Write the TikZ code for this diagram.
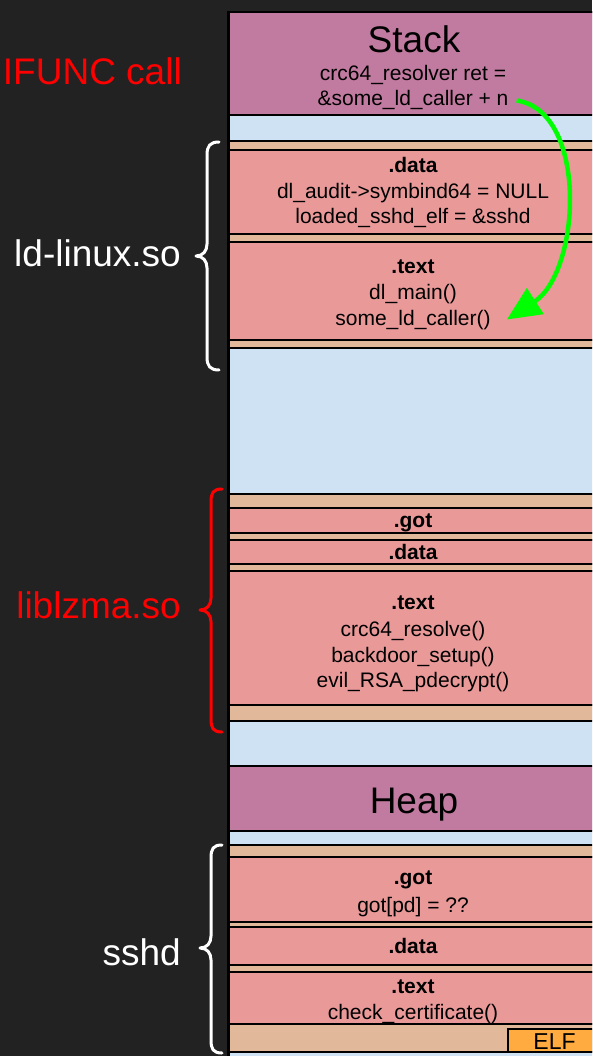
\documentclass[tikz,border=0pt]{standalone}
\usepackage{fontspec}
\setmainfont{Liberation Sans}
\usetikzlibrary{arrows.meta}
\definecolor{bg}{HTML}{222222}
\definecolor{stackc}{HTML}{C27BA0}
\definecolor{lblue}{HTML}{CFE2F3}
\definecolor{pinkc}{HTML}{EA9999}
\definecolor{tanc}{HTML}{E1B899}
\definecolor{elfc}{HTML}{FFAB40}
\definecolor{redc}{HTML}{FF0000}
\definecolor{greenc}{HTML}{00FF00}
\newcommand\band[4]{\node[band,fill=#4,minimum height={#3-#2}] (#1) at (418,{(#2+#3)/2}) {};}
\begin{document}
\begin{tikzpicture}[x=1pt,y=-1pt,
  band/.style={draw=black,line width=1.5pt,rectangle,inner sep=0pt,outer sep=0pt,minimum width=380pt},
  txt/.style={anchor=base,inner sep=0pt,font=\fontsize{21}{25}\selectfont,text=black},
  btxt/.style={txt,font=\fontsize{21}{25}\selectfont\bfseries},
  big/.style={anchor=base,inner sep=0pt,font=\fontsize{37}{44}\selectfont,text=black},
  side/.style={anchor=base east,inner sep=0pt,font=\fontsize{37}{44}\selectfont},
  brace/.style={line width=3pt,line cap=round,line join=round},
  jump/.style={draw=greenc,line width=4.5pt,-{Triangle[length=34pt,width=30pt]}}]
\useasboundingbox (0,0) rectangle (592,1056);
\fill[bg] (0,0) rectangle (592,1056);
\begin{scope}
\clip (0,0) rectangle (592,1056);
\band{mem}{12}{1070}{lblue}
\band{stack}{12}{115}{stackc}
\band{ldtA}{141}{150}{tanc}
\band{lddata}{150}{234}{pinkc}
\band{ldtB}{234}{242}{tanc}
\band{ldtext}{242}{340}{pinkc}
\band{ldtC}{340}{348}{tanc}
\band{lztA}{494}{508}{tanc}
\band{lzgot}{508}{533}{pinkc}
\band{lztB}{533}{540}{tanc}
\band{lzdata}{540}{564}{pinkc}
\band{lztC}{564}{571}{tanc}
\band{lztext}{571}{705}{pinkc}
\band{lztD}{705}{721}{tanc}
\band{heap}{766}{831}{stackc}
\band{sstA}{845}{857}{tanc}
\band{ssgot}{857}{922}{pinkc}
\band{sstB}{922}{927}{tanc}
\band{ssdata}{927}{965}{pinkc}
\band{sstC}{965}{972}{tanc}
\band{sstext}{972}{1024}{pinkc}
\band{sstD}{1024}{1052}{tanc}
\node[draw=black,line width=1.5pt,fill=elfc,inner sep=0pt,minimum width=92pt,minimum height=23pt] (elf) at (554,1040.5) {};
\draw[line width=3pt] (mem.north west) -- (mem.south west);
\end{scope}
% texts
\node[big] (tstack) at (414,53) {Stack};
\node[txt] (st1) at (413,81) {crc64\_resolver ret =};
\node[txt] (st2) at (413,106) {\&some\_ld\_caller + n};
\node[btxt] (ld1) at (413,173) {.data};
\node[txt] (ld2) at (413,199) {dl\_audit->symbind64 = NULL};
\node[txt] (ld3) at (413,224) {loaded\_sshd\_elf = \&sshd};
\node[btxt] (ld4) at (413,273) {.text};
\node[txt] (ld5) at (413,299) {dl\_main()};
\node[txt] (ld6) at (413,325) {some\_ld\_caller()};
\node[btxt] (lz1) at (413,527) {.got};
\node[btxt] (lz2) at (413,559) {.data};
\node[btxt] (lz3) at (413,609) {.text};
\node[txt] (lz4) at (413,636) {crc64\_resolve()};
\node[txt] (lz5) at (413,662) {backdoor\_setup()};
\node[txt] (lz6) at (413,687) {evil\_RSA\_pdecrypt()};
\node[big] (theap) at (414,813) {Heap};
\node[btxt] (ss1) at (413,884) {.got};
\node[txt] (ss2) at (413,912) {got[pd] = ??};
\node[btxt] (ss3) at (413,953) {.data};
\node[btxt] (ss4) at (413,993) {.text};
\node[txt] (ss5) at (413,1019) {check\_certificate()};
\node[anchor=base,inner sep=0pt,font=\fontsize{23}{27}\selectfont] (telf) at (554.5,1049) {ELF};
% side labels
\node[side,text=redc] (lifunc) at (182,85) {IFUNC call};
\node[side,text=white] (lld) at (181,267) {ld-linux.so};
\node[side,text=redc] (llz) at (181,618) {liblzma.so};
\node[side,text=white] (lss) at (181,965) {sshd};
% braces
\draw[brace,white] (219,142) .. controls (210,142) and (207,146) .. (207,155) -- (207,244)
  .. controls (207,251) and (203,256) .. (196,256) .. controls (203,256) and (207,261) .. (207,268)
  -- (207,357) .. controls (207,366) and (210,370) .. (219,370);
\draw[brace,redc] (222,489) .. controls (213,489) and (211,493) .. (211,502) -- (211,598)
  .. controls (211,605) and (207,610) .. (200,610) .. controls (207,610) and (211,615) .. (211,622)
  -- (211,719) .. controls (211,728) and (213,732) .. (222,732);
\draw[brace,white] (222,845) .. controls (213,845) and (211,849) .. (211,858) -- (211,936)
  .. controls (211,943) and (207,948) .. (200,948) .. controls (207,948) and (211,953) .. (211,960)
  -- (211,1040) .. controls (211,1049) and (213,1053) .. (222,1053);
% green jump
\draw[jump] ([xshift=8pt]st2.east) .. controls +(72,11) and +(74,-48) .. ([xshift=16pt]ld6.east);
\end{tikzpicture}
\end{document}
